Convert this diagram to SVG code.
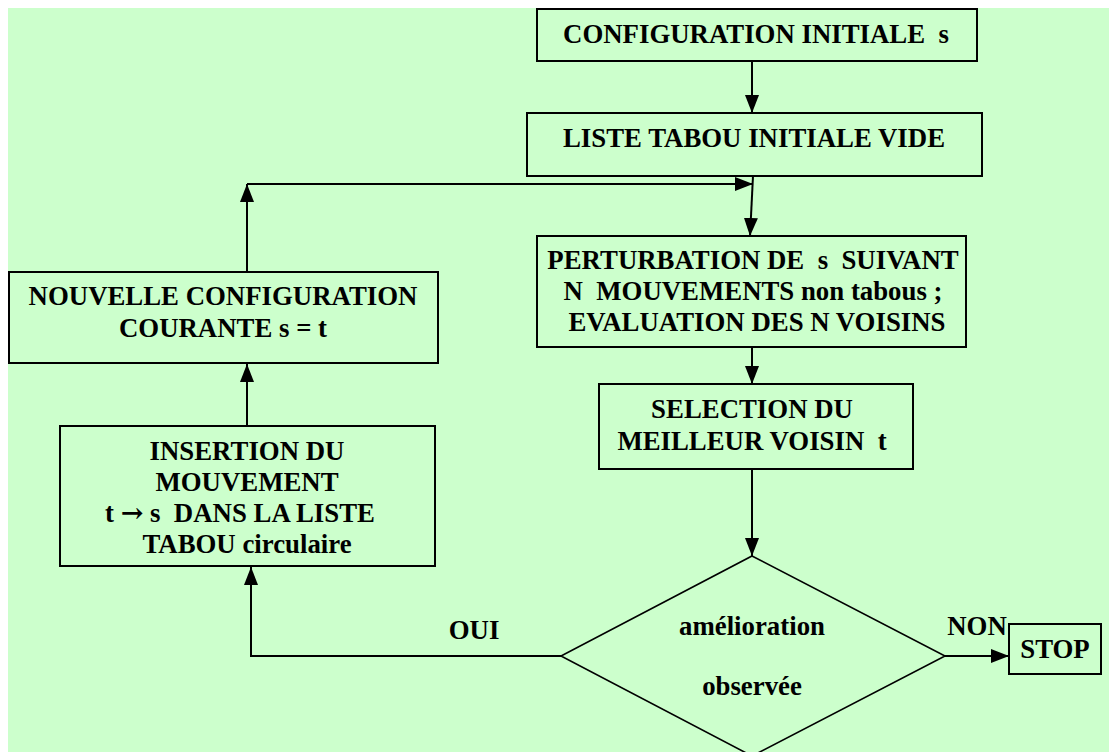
<svg xmlns="http://www.w3.org/2000/svg" width="1109" height="752" viewBox="0 0 1109 752">
  <style>
    .box { fill: #CCFFCC; stroke: #000; stroke-width: 2; }
    .lbl { font-family: "Liberation Serif", "Times New Roman", serif; font-weight: bold; font-size: 26.8px; fill: #000; text-anchor: middle; }
    .sym { font-family: "DejaVu Serif", serif; font-weight: bold; font-size: 27px; }
    .wire { fill: none; stroke: #000; stroke-width: 2; }
  </style>
  <defs>
    <marker id="arrow" viewBox="0 0 18 14" refX="18" refY="7" markerWidth="18" markerHeight="14" markerUnits="userSpaceOnUse" orient="auto">
      <path d="M0,0 L18,7 L0,14 Z" fill="#000"/>
    </marker>
  </defs>

  <!-- page background -->
  <rect x="0" y="0" width="1109" height="752" fill="#FFFFFF"/>
  <rect x="8" y="8" width="1101" height="744" fill="#CCFFCC"/>

  <!-- connectors -->
  <g id="connectors">
    <line class="wire" x1="752" y1="61" x2="752" y2="113" marker-end="url(#arrow)"/>
    <line class="wire" x1="247" y1="272" x2="247" y2="184" marker-end="url(#arrow)"/>
    <line class="wire" x1="247" y1="184" x2="753" y2="184" marker-end="url(#arrow)"/>
    <line class="wire" x1="753" y1="176" x2="750" y2="236" marker-end="url(#arrow)"/>
    <line class="wire" x1="752" y1="347" x2="752" y2="384" marker-end="url(#arrow)"/>
    <line class="wire" x1="752" y1="469" x2="752" y2="556" marker-end="url(#arrow)"/>
    <polyline class="wire" points="561,656 251,656 251,567" marker-end="url(#arrow)"/>
    <line class="wire" x1="247" y1="426" x2="247" y2="364" marker-end="url(#arrow)"/>
    <line class="wire" x1="945" y1="656" x2="1009" y2="656" marker-end="url(#arrow)"/>
    <text class="lbl" x="474" y="639">OUI</text>
    <text class="lbl" x="977" y="635">NON</text>
  </g>

  <g id="node-config-initiale">
    <rect class="box" x="537" y="9" width="440" height="52"/>
    <text class="lbl" x="756" y="43" xml:space="preserve">CONFIGURATION INITIALE  s</text>
  </g>

  <g id="node-liste-tabou">
    <rect class="box" x="527" y="113" width="455" height="63"/>
    <text class="lbl" x="754" y="147">LISTE TABOU INITIALE VIDE</text>
  </g>

  <g id="node-perturbation">
    <rect class="box" x="537" y="236" width="429" height="111"/>
    <text class="lbl" x="753" y="269" xml:space="preserve">PERTURBATION DE  s  SUIVANT</text>
    <text class="lbl" x="753" y="300" xml:space="preserve">N  MOUVEMENTS non tabous ;</text>
    <text class="lbl" x="757" y="331">EVALUATION DES N VOISINS</text>
  </g>

  <g id="node-selection">
    <rect class="box" x="599" y="384" width="314" height="85"/>
    <text class="lbl" x="752" y="418">SELECTION DU</text>
    <text class="lbl" x="752" y="450" xml:space="preserve">MEILLEUR VOISIN  t</text>
  </g>

  <g id="node-amelioration">
    <polygon class="box" points="752,556 945,656 752,756 561,656" style="stroke-width:1.6"/>
    <text class="lbl" x="752" y="635">amélioration</text>
    <text class="lbl" x="752" y="695">observée</text>
  </g>

  <g id="node-stop">
    <rect class="box" x="1009" y="624" width="92" height="50"/>
    <text class="lbl" x="1055" y="658">STOP</text>
  </g>

  <g id="node-nouvelle-config">
    <rect class="box" x="9" y="272" width="429" height="91"/>
    <text class="lbl" x="223" y="305">NOUVELLE CONFIGURATION</text>
    <text class="lbl" x="223" y="337">COURANTE s = t</text>
  </g>

  <g id="node-insertion">
    <rect class="box" x="60" y="426" width="375" height="140"/>
    <text class="lbl" x="247" y="460">INSERTION DU</text>
    <text class="lbl" x="247" y="491">MOUVEMENT</text>
    <text class="lbl" x="240" y="522" xml:space="preserve">t <tspan class="sym">→</tspan> s  DANS LA LISTE</text>
    <text class="lbl" x="247" y="553">TABOU circulaire</text>
  </g>
</svg>
